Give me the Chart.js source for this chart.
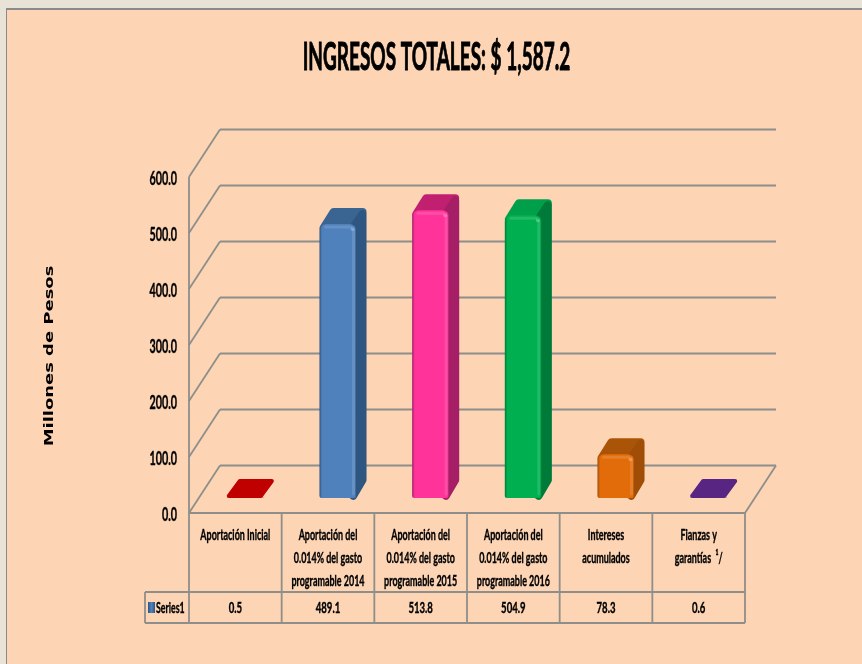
<!doctype html>
<html lang="es">

<head>
  <meta charset="utf-8">
  <title>Ingresos totales</title>
  <style>
    * {
      margin: 0;
      padding: 0;
    }

    body {
      width: 862px;
      height: 664px;
      overflow: hidden;
      background: #e9e2d7;
    }

    .frame {
      position: absolute;
      left: 6px;
      top: 8px;
      width: 856px;
      height: 656px;
      box-sizing: border-box;
      background: #fdd5b5;
      border-left: 1px solid #8a8a8a;
      border-top: 2px solid #8a8a8a;
    }

    .chartBox {
      position: absolute;
      left: 0;
      top: 0;
      width: 862px;
      height: 664px;
    }
  </style>
</head>

<body>
  <div class="frame"></div>
  <div class="chartBox"><canvas id="myChart" width="862" height="664"></canvas></div>
  <script src="https://cdn.jsdelivr.net/npm/chart.js/dist/chart.umd.min.js"></script>
  <script>
    // setup
    const categories = [
      ['Aportación Inicial'],
      ['Aportación del', '0.014% del gasto', 'programable 2014'],
      ['Aportación del', '0.014% del gasto', 'programable 2015'],
      ['Aportación del', '0.014% del gasto', 'programable 2016'],
      ['Intereses', 'acumulados'],
      ['Fianzas y', 'garantías  ¹/']
    ];
    const values = [0.5, 489.1, 513.8, 504.9, 78.3, 0.6];
    const seriesName = 'Series1';
    const yTicks = [0, 100, 200, 300, 400, 500, 600];

    const frontColors = ['#c00000', '#4f81bd', '#ff3399', '#00b050', '#e36c0a', '#582583'];
    const sideColors = ['#c00000', '#2f5680', '#a61f66', '#007a38', '#a04d08', '#582583'];
    const topColors = ['#c00000', '#3a6491', '#c0206f', '#00a04a', '#aa5408', '#582583'];

    const GRID = '#8e8e8a';
    const LABEL_FONT = 'Lato, sans-serif';
    const depth = { x: 10, y: 16 };      // bar depth
    const wall = { x: 31, y: 47.5 };     // depth of the walls
    const barShift = { x: 10, y: -15 };  // bars stand in the middle of the floor

    function line(ctx, x1, y1, x2, y2) {
      ctx.beginPath();
      ctx.moveTo(x1, y1);
      ctx.lineTo(x2, y2);
      ctx.stroke();
    }

    function polygon(ctx, points) {
      ctx.beginPath();
      points.forEach(p => ctx.lineTo(p[0], p[1]));
      ctx.closePath();
      ctx.fill();
      ctx.stroke();
    }

    // the reference uses a very condensed face, no such font here so squeeze it
    function squeezed(ctx, text, x, y, size, sx, align, weight) {
      ctx.save();
      ctx.translate(x, y);
      ctx.scale(sx, 1);
      ctx.font = 'bold ' + size + 'px ' + LABEL_FONT;
      ctx.textAlign = align || 'center';
      ctx.textBaseline = 'middle';
      ctx.fillStyle = '#000';
      ctx.strokeStyle = '#000';
      ctx.lineWidth = weight || 0.4;
      ctx.fillText(text, 0, 0);
      ctx.strokeText(text, 0, 0);
      ctx.restore();
    }

    // walls + floor behind the bars
    const walls = {
      id: 'walls',
      beforeDatasetsDraw(chart) {
        const { ctx, scales: { y }, chartArea: { left, right, bottom } } = chart;
        ctx.save();
        ctx.strokeStyle = GRID;
        ctx.lineWidth = 1.8;
        yTicks.forEach(v => {
          const py = y.getPixelForValue(v);
          line(ctx, left + wall.x, py - wall.y, right + wall.x, py - wall.y);
          line(ctx, left, py, left + wall.x, py - wall.y);
        });
        line(ctx, left, y.getPixelForValue(600), left, bottom);
        line(ctx, right, bottom, right + wall.x, bottom - wall.y);
        ctx.restore();
      }
    };

    // bars get their top and side here, the front is the normal Chart.js bar
    const bars3d = {
      id: 'bars3d',
      beforeDatasetDraw(chart) {
        const { ctx } = chart;
        ctx.save();
        ctx.translate(barShift.x, barShift.y);
        ctx.lineJoin = 'round';
        chart.getDatasetMeta(0).data.forEach((bar, i) => {
          const l = bar.x - bar.width / 2;
          const r = bar.x + bar.width / 2;
          const t = bar.y;
          const b = bar.base;
          ctx.fillStyle = ctx.strokeStyle = topColors[i];
          if (b - t < 5) {
            // almost no height: only the rounded lid shows
            ctx.lineWidth = 4;
            polygon(ctx, [
              [l + 2, b - 2],
              [l + depth.x + 3, b - depth.y - 1],
              [r + depth.x - 2, b - depth.y - 1],
              [r - 3, b - 2]
            ]);
            return;
          }
          ctx.lineWidth = 8;
          polygon(ctx, [
            [l + 4, t + 4],
            [l + depth.x + 4, t - depth.y + 4],
            [r + depth.x - 4, t - depth.y + 4],
            [r - 4, t + 4]
          ]);
          ctx.fillStyle = ctx.strokeStyle = sideColors[i];
          polygon(ctx, [
            [r - 5, t + 6],
            [r + depth.x - 4, t - depth.y + 6],
            [r + depth.x - 4, b - depth.y - 2],
            [r - 3.4, b - 2.1]
          ]);
        });
      },
      afterDatasetDraw(chart) {
        const { ctx } = chart;
        // soft bevel on the front faces
        chart.getDatasetMeta(0).data.forEach(bar => {
          if (bar.base - bar.y < 5) return;
          const l = bar.x - bar.width / 2;
          const r = bar.x + bar.width / 2;
          ctx.strokeStyle = 'rgba(255,255,255,0.13)';
          ctx.lineWidth = 3;
          ctx.lineCap = 'round';
          line(ctx, l + 6, bar.y + 3, r - 6, bar.y + 3);
          line(ctx, r - 3, bar.y + 6, r - 3, bar.base - 4);
          ctx.fillStyle = 'rgba(255,255,255,0.25)';
          ctx.beginPath();
          ctx.arc(r - 4, bar.y + 5, 2, 0, Math.PI * 2);
          ctx.fill();
        });
        ctx.restore();
      }
    };

    // tick labels, table under the plot and the two titles
    const dataTable = {
      id: 'dataTable',
      afterDraw(chart) {
        const { ctx, scales: { x, y }, chartArea: { left, right, bottom } } = chart;
        const rowTop = 592;
        const rowBottom = 623;
        const rowLeft = 145;
        const cell = (right - left) / categories.length;
        ctx.save();
        ctx.strokeStyle = GRID;
        ctx.lineWidth = 1.8;
        line(ctx, left, bottom, right, bottom);
        line(ctx, rowLeft, rowTop, right, rowTop);
        line(ctx, rowLeft, rowBottom, right, rowBottom);
        line(ctx, rowLeft, rowTop, rowLeft, rowBottom);
        for (let i = 0; i <= categories.length; i++) {
          line(ctx, left + i * cell, bottom, left + i * cell, rowBottom);
        }

        y.ticks.forEach(t => {
          squeezed(ctx, t.label, 177, y.getPixelForValue(t.value) + 2.5, 18, 0.6, 'right');
        });
        x.ticks.forEach((t, i) => {
          t.label.forEach((txt, n) => {
            squeezed(ctx, txt, x.getPixelForValue(i), 534.5 + n * 23.3, 16, 0.56);
          });
        });
        values.forEach((v, i) => squeezed(ctx, v.toFixed(1), x.getPixelForValue(i), 607.5, 16, 0.6));

        // legend key
        squeezed(ctx, seriesName, 156, 607.5, 16, 0.55, 'left');
        const g = ctx.createLinearGradient(148, 0, 155, 0);
        g.addColorStop(0, '#2f5680');
        g.addColorStop(0.5, '#4f81bd');
        g.addColorStop(1, '#2f5680');
        ctx.fillStyle = g;
        ctx.fillRect(148, 602, 7, 11);

        // main title
        squeezed(ctx, 'INGRESOS TOTALES: $ 1,587.2', 436.5, 58, 38, 0.5, 'center', 1);

        // y title
        ctx.translate(50, 356);
        ctx.rotate(-Math.PI / 2);
        ctx.scale(1.38, 1);
        ctx.font = 'bold 13px "DejaVu Sans", sans-serif';
        ctx.fillStyle = '#000';
        ctx.textAlign = 'center';
        ctx.textBaseline = 'middle';
        ctx.fillText('Millones de Pesos', 0, 0);
        ctx.restore();
      }
    };

    // config
    const config = {
      type: 'bar',
      data: {
        labels: categories,
        datasets: [{
          label: seriesName,
          data: values,
          clip: false,
          barPercentage: 0.4,
          categoryPercentage: 1,
          borderSkipped: false,
          borderRadius: { topLeft: 7, topRight: 7, bottomLeft: 2, bottomRight: 3 },
          backgroundColor(c) {
            const { chart, dataIndex } = c;
            const col = frontColors[dataIndex] || frontColors[1];
            const mid = chart.scales.x ? chart.scales.x.getPixelForValue(dataIndex) : NaN;
            if (!Number.isFinite(mid)) return col;
            const g = chart.ctx.createLinearGradient(mid - 18.5, 0, mid + 18.5, 0);
            g.addColorStop(0, sideColors[dataIndex]);
            g.addColorStop(0.07, col);
            g.addColorStop(0.95, col);
            g.addColorStop(1, sideColors[dataIndex]);
            return g;
          }
        }]
      },
      options: {
        responsive: false,
        animation: false,
        layout: { padding: { left: 150, top: 177, right: 117, bottom: 41 } },
        plugins: {
          legend: { display: false },
          tooltip: { enabled: false }
        },
        scales: {
          x: {
            grid: { display: false },
            border: { display: false },
            ticks: { display: false, autoSkip: false },
            afterFit(scale) { scale.height = 110; }
          },
          y: {
            min: 0,
            max: 600,
            grid: { display: false },
            border: { display: false },
            afterFit(scale) { scale.width = 39; },
            ticks: {
              display: false,
              stepSize: 100,
              callback: v => v.toFixed(1)
            }
          }
        }
      },
      plugins: [walls, bars3d, dataTable]
    };

    const myChart = new Chart(document.getElementById('myChart'), config);
  </script>
</body>

</html>
